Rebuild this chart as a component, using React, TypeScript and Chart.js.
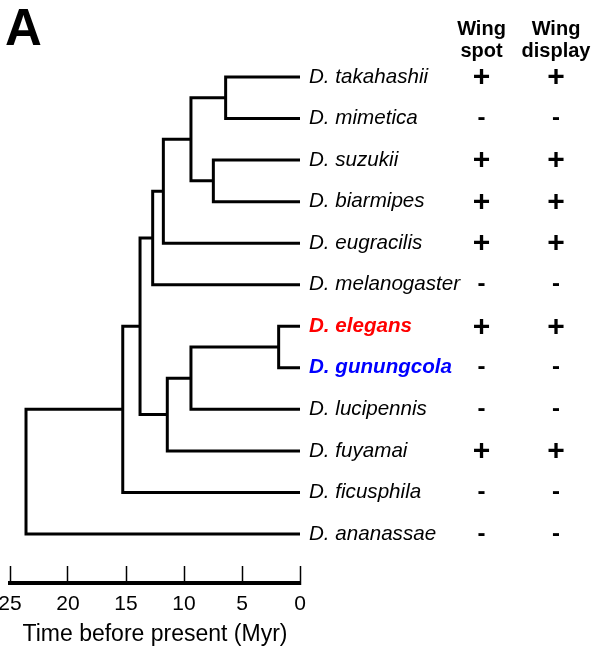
import React, { useEffect, useRef } from 'react';
import { Chart, registerables } from 'chart.js';

Chart.register(...registerables);

const FONT = '"Liberation Sans", Arial, Helvetica, sans-serif';

// Tips (top to bottom)
const species = [
  'D. takahashii',
  'D. mimetica',
  'D. suzukii',
  'D. biarmipes',
  'D. eugracilis',
  'D. melanogaster',
  'D. elegans',
  'D. gunungcola',
  'D. lucipennis',
  'D. fuyamai',
  'D. ficusphila',
  'D. ananassae',
];
const speciesColors = ['#000', '#000', '#000', '#000', '#000', '#000', '#ff0000', '#0000ff', '#000', '#000', '#000', '#000'];
const speciesBold = [false, false, false, false, false, false, true, true, false, false, false, false];

// Traits
const wingSpot = ['+', '-', '+', '+', '+', '-', '+', '-', '-', '+', '-', '-'];
const wingDisplay = ['+', '-', '+', '+', '+', '-', '+', '-', '-', '+', '-', '-'];
const traitHeaders = [['Wing', 'spot'], ['Wing', 'display']];

// Internal nodes: children and divergence time (Myr)
const nodeIds = ['n0', 'n1', 'n2', 'n3', 'n4', 'n5', 'n6', 'n7', 'n8', 'n9', 'n10'];
const nodeChildA = ['D. takahashii', 'D. suzukii', 'n0', 'n2', 'n3', 'D. elegans', 'n5', 'n6', 'n4', 'n8', 'n9'];
const nodeChildB = ['D. mimetica', 'D. biarmipes', 'n1', 'D. eugracilis', 'D. melanogaster', 'D. gunungcola', 'D. lucipennis', 'D. fuyamai', 'n7', 'D. ficusphila', 'D. ananassae'];
const nodeAges = [6.41, 7.47, 9.4, 11.78, 12.7, 1.84, 9.4, 11.44, 13.79, 15.28, 23.62];

// Axis
const timeTicks = [25, 20, 15, 10, 5, 0];
const axisTitle = 'Time before present (Myr)';
const panelLabel = 'A';

function ageOf(id: string): number {
  const k = nodeIds.indexOf(id);
  return k >= 0 ? nodeAges[k] : 0;
}
function rowOf(id: string): number {
  const k = nodeIds.indexOf(id);
  if (k < 0) return species.indexOf(id);
  return (rowOf(nodeChildA[k]) + rowOf(nodeChildB[k])) / 2;
}

const CANVAS_LEFT = -40;
const CANVAS_W = 636;
const CANVAS_H = 648;

const annotPlugin = {
  id: 'annot',
  afterDraw(chart: any) {
    const { ctx, chartArea, scales } = chart;
    const ys = scales.y;
    ctx.save();
    ctx.fillStyle = '#000';
    // panel label
    ctx.font = `bold 51px ${FONT}`;
    ctx.textAlign = 'left';
    ctx.textBaseline = 'alphabetic';
    ctx.fillText(panelLabel, 5 - CANVAS_LEFT, 45);

    const cols = [chartArea.right + 181.5, chartArea.right + 256];
    // headers
    ctx.font = `bold 20px ${FONT}`;
    ctx.textAlign = 'center';
    traitHeaders.forEach((lines, c) => {
      lines.forEach((t, j) => ctx.fillText(t, cols[c], 35 + j * 22));
    });
    // marks
    const traits = [wingSpot, wingDisplay];
    ctx.textBaseline = 'middle';
    traits.forEach((arr, c) => {
      arr.forEach((m, i) => {
        const py = ys.getPixelForValue(i);
        if (m === '+') {
          ctx.font = `bold 30px ${FONT}`;
          ctx.fillText('+', cols[c], py + 1);
        } else {
          ctx.font = `bold 24px ${FONT}`;
          ctx.fillText('-', cols[c], py);
        }
      });
    });
    ctx.restore();
  },
};

export default function App() {
  const ref = useRef<HTMLCanvasElement | null>(null);

  useEffect(() => {
    if (!ref.current) return;
    const datasets = nodeIds.map((id, k) => {
      const a = nodeChildA[k];
      const b = nodeChildB[k];
      const t = nodeAges[k];
      return {
        label: id,
        data: [
          { x: ageOf(a), y: rowOf(a) },
          { x: t, y: rowOf(a) },
          { x: t, y: rowOf(b) },
          { x: ageOf(b), y: rowOf(b) },
        ],
        showLine: true,
        borderColor: '#000',
        borderWidth: 3,
        pointRadius: 0,
        fill: false,
        tension: 0,
        borderJoinStyle: 'miter',
        borderCapStyle: 'butt',
        clip: 4,
      };
    });

    const chart = new Chart(ref.current, {
      type: 'scatter',
      data: { datasets: datasets as any },
      options: {
        animation: false,
        responsive: false,
        events: [],
        layout: { padding: { left: 50, right: 0, top: 35.45, bottom: 0 } },
        plugins: { legend: { display: false }, tooltip: { enabled: false } },
        scales: {
          x: {
            type: 'linear',
            position: 'bottom',
            min: 0,
            max: 25,
            reverse: true,
            afterBuildTicks: (s: any) => {
              s.ticks = timeTicks.map((v) => ({ value: v }));
            },
            afterFit: (s: any) => {
              s.height = 65;
            },
            grid: {
              drawOnChartArea: false,
              drawTicks: true,
              tickLength: -17,
              tickWidth: 1.5,
              tickColor: '#000',
              color: '#000',
            },
            border: { display: true, color: '#000', width: 4 },
            ticks: {
              color: '#000',
              font: { family: FONT, size: 21 },
              padding: 25.4,
              maxRotation: 0,
              autoSkip: false,
            },
            title: {
              display: true,
              text: axisTitle,
              color: '#000',
              font: { family: FONT, size: 23 },
              padding: { top: 0, bottom: 0 },
            },
          },
          y: {
            type: 'linear',
            position: 'right',
            min: -1,
            max: 12.18,
            reverse: true,
            afterBuildTicks: (s: any) => {
              s.ticks = species.map((_, i) => ({ value: i }));
            },
            afterFit: (s: any) => {
              s.width = 296;
            },
            grid: { display: false, drawTicks: false },
            border: { display: false },
            ticks: {
              autoSkip: false,
              padding: 9,
              callback: (v: any) => species[v as number],
              color: (c: any) => speciesColors[c.index] ?? '#000',
              font: (c: any) => ({
                family: FONT,
                size: 20.6,
                style: 'italic',
                weight: speciesBold[c.index] ? 'bold' : 'normal',
              }),
            },
          },
        },
      } as any,
      plugins: [annotPlugin],
    });
    return () => chart.destroy();
  }, []);

  return (
    <div style={{ position: 'absolute', left: CANVAS_LEFT, top: 0, width: CANVAS_W, height: CANVAS_H }}>
      <canvas ref={ref} width={CANVAS_W} height={CANVAS_H} style={{ display: 'block', width: CANVAS_W, height: CANVAS_H }} />
    </div>
  );
}
